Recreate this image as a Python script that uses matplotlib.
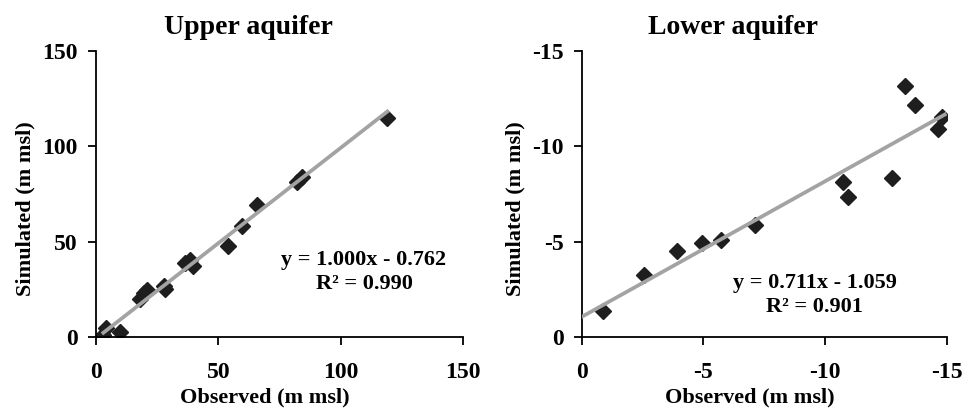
import numpy as np
import matplotlib
matplotlib.use("Agg")
import matplotlib.pyplot as plt

plt.rcParams['font.family'] = ['Liberation Serif', 'DejaVu Serif']
plt.rcParams['font.weight'] = 'bold'
plt.rcParams['axes.unicode_minus'] = False

# upper aquifer (observed, simulated)
upper_obs = [3, 4, 9.7, 18, 19.5, 20.8, 27.6, 28.3, 36.4, 38.5, 39.8, 54.1, 59.6, 65.7, 82, 84, 119]
upper_sim = [1, 4.5, 2.6, 20, 23, 24.8, 26.5, 25, 38.8, 40.5, 37, 47.5, 58, 69.3, 81.5, 84, 115]
upper_eq = "y = 1.000x - 0.762\nR² = 0.990"
upper_ticks = [0, 50, 100, 150]

# lower aquifer
lower_obs = [-0.88, -2.55, -3.92, -4.92, -5.74, -7.11, -10.74, -10.95, -12.77, -13.27, -13.69, -14.65, -14.82]
lower_sim = [-1.38, -3.26, -4.53, -4.93, -5.1, -5.86, -8.12, -7.35, -8.33, -13.17, -12.16, -10.93, -11.56]
lower_eq = "y = 0.711x - 1.059\nR² = 0.901"
lower_ticks = [0, -5, -10, -15]

fig = plt.figure(figsize=(9.73, 4.13), dpi=100)
fig.patch.set_facecolor('white')

ax1 = fig.add_axes([0.0987, 0.184, 0.3773, 0.6925])
ax2 = fig.add_axes([0.598, 0.184, 0.375, 0.6925])


def style(ax, ticks, title):
    for s in ['top', 'right']:
        ax.spines[s].set_visible(False)
    for s in ['left', 'bottom']:
        ax.spines[s].set_linewidth(1.3)
    ax.set_xticks(ticks)
    ax.set_yticks(ticks)
    ax.tick_params(direction='out', length=6, width=1.3, labelsize=17)
    ax.tick_params(axis='x', pad=12)
    ax.tick_params(axis='y', pad=7)
    for lab in ax.get_xticklabels() + ax.get_yticklabels():
        lab.set_fontweight('bold')
    ax.set_xlabel("Observed (m msl)", fontsize=16, fontweight='bold', labelpad=3, x=0.459)
    ax.set_ylabel("Simulated (m msl)", fontsize=16, fontweight='bold', labelpad=5, y=0.45)
    ax.set_title(title, fontsize=20, fontweight='bold', pad=12, x=0.415)


# upper
x = np.array(upper_obs)
y = np.array(upper_sim)
tx = np.array([x.min(), x.max()])
ax1.plot(tx, 1.000 * tx - 0.762, color='#a3a3a3', lw=2.7, zorder=3)
ax1.plot(x, y, 'D', color='#1e1e1e', ms=8.5, zorder=2)
ax1.set_xlim(0, 150)
ax1.set_ylim(0, 150)
style(ax1, upper_ticks, "Upper aquifer")
ax1.text(0.73, 0.227, upper_eq, transform=ax1.transAxes, ha='center', va='center',
         fontsize=16, fontweight='bold', linespacing=1.25)

# lower
x = np.array(lower_obs)
y = np.array(lower_sim)
tx = np.array([0, x.min() - 0.1])
ax2.plot(tx, 0.711 * tx - 1.059, color='#a3a3a3', lw=2.7, zorder=3)
ax2.plot(x, y, 'D', color='#1e1e1e', ms=8.5, zorder=2)
ax2.set_xlim(0, -15)
ax2.set_ylim(0, -15)
style(ax2, lower_ticks, "Lower aquifer")
ax2.text(0.638, 0.147, lower_eq, transform=ax2.transAxes, ha='center', va='center',
         fontsize=16, fontweight='bold', linespacing=1.25)

fig.savefig("out.png", dpi=100)
